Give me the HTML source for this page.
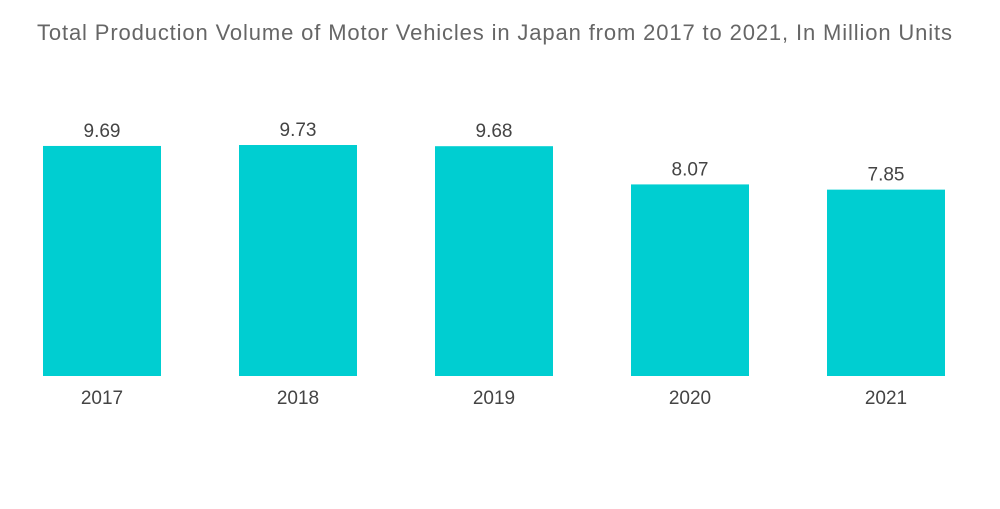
<!DOCTYPE html>
<html><head><meta charset="utf-8"><style>
body{margin:0;background:#fff;width:1000px;height:504px;overflow:hidden;font-family:"Liberation Sans",sans-serif}
</style></head><body>
<svg width="1000" height="504">
<text x="37" y="40" font-size="22" fill="#666" textLength="915" lengthAdjust="spacing">Total Production Volume of Motor Vehicles in Japan from 2017 to 2021, In Million Units</text>
<g id="bars"></g>
</svg>
<script>
const categories=["2017","2018","2019","2020","2021"];
const values=[9.69,9.73,9.68,8.07,7.85];
const valueLabels=["9.69","9.73","9.68","8.07","7.85"];
const baseY=376, pxPerUnit=23.74, firstCenter=102, step=196, barW=118;
function xScale(i){return firstCenter+i*step;}
function yScale(v){return baseY-v*pxPerUnit;}
const g=document.getElementById('bars');const ns="http://www.w3.org/2000/svg";
categories.forEach((c,i)=>{
 const r=document.createElementNS(ns,'rect');
 
 
 r.setAttribute('x',xScale(i)-barW/2);r.setAttribute('y',yScale(values[i]));
 r.setAttribute('width',barW);r.setAttribute('height',baseY-yScale(values[i]));
 r.setAttribute('fill','#00CED1');g.appendChild(r);
 const t=document.createElementNS(ns,'text');
 
 
 t.setAttribute('x',xScale(i));t.setAttribute('y',yScale(values[i])-9);
 t.setAttribute('text-anchor','middle');t.setAttribute('font-size','19');t.setAttribute('fill','#444');
 t.textContent=valueLabels[i];g.appendChild(t);
 const l=document.createElementNS(ns,'text');
 
 
 l.setAttribute('x',xScale(i));l.setAttribute('y',404);
 l.setAttribute('text-anchor','middle');l.setAttribute('font-size','19');l.setAttribute('fill','#444');
 l.textContent=c;g.appendChild(l);
});
</script>
</body></html>
